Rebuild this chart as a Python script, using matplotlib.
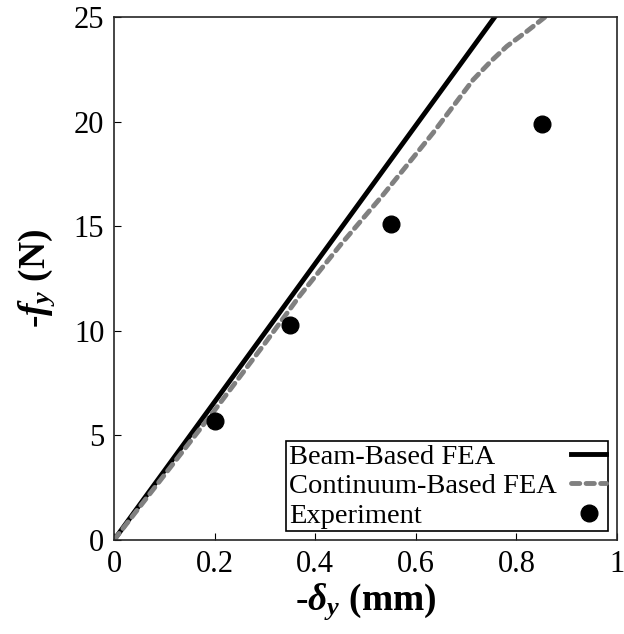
import numpy as np
import matplotlib.pyplot as plt

# Date
beam_x = [0.0, 0.757]
beam_y = [0.0, 25.0]

cont_x = [0.0, 0.1, 0.2, 0.3, 0.37, 0.45, 0.535, 0.634, 0.714, 0.75, 0.781, 0.82, 0.857]
cont_y = [0.0, 3.1, 6.2, 9.4, 11.7, 14.1, 16.5, 19.45, 22.0, 22.9, 23.6, 24.3, 25.0]

exp_x = [0.2, 0.35, 0.55, 0.85]
exp_y = [5.7, 10.3, 15.1, 19.9]

xticks = [0, 0.2, 0.4, 0.6, 0.8, 1]
xticklabels = ['0', '0.2', '0.4', '0.6', '0.8', '1']
yticks = [0, 5, 10, 15, 20, 25]

plt.rcParams['font.family'] = 'Liberation Serif'
plt.rcParams['mathtext.fontset'] = 'custom'
plt.rcParams['mathtext.rm'] = 'Liberation Serif:bold'
plt.rcParams['mathtext.bf'] = 'Liberation Serif:bold'
plt.rcParams['mathtext.it'] = 'Liberation Serif:bold:italic'

fig = plt.figure(figsize=(6.24, 6.34), dpi=100)
ax = fig.add_axes([114 / 624, 1 - 540 / 634, 503 / 624, 523 / 634])

ax.plot(beam_x, beam_y, '-', c='black', lw=3.5, label='Beam-Based FEA')
ax.plot(cont_x, cont_y, c='#808080', lw=3.5, linestyle=(0, (1.7, 1.3)),
        dash_capstyle='round', label='Continuum-Based FEA')
ax.plot(exp_x, exp_y, 'o', c='black', ms=12, label='Experiment')

ax.set_xlim(0, 1)
ax.set_ylim(0, 25)
ax.set_xticks(xticks)
ax.set_xticklabels(xticklabels)
ax.set_yticks(yticks)
ax.tick_params(direction='in', length=5, width=0.8, labelsize=22, pad=7)
for s in ax.spines.values():
    s.set_linewidth(1.2)
    s.set_color('#262626')

ax.set_xlabel(r'-$\delta_y$ (mm)', fontsize=27, fontweight='bold', labelpad=2)
ax.set_ylabel(r'-$f_y$ (N)', fontsize=27, fontweight='bold', labelpad=12)

leg = ax.legend(loc='lower right', markerfirst=False, fontsize=20.5,
                fancybox=False, framealpha=1, edgecolor='black',
                borderpad=0.1, labelspacing=0.12, handlelength=1.2,
                handletextpad=0.5, borderaxespad=0.3)
leg.get_frame().set_linewidth(1.2)

# text aliniat la stanga, simbolurile la dreapta
fig.canvas.draw()
texts = leg.get_texts()
widths = [t.get_window_extent().width for t in texts]
wmax = max(widths)
rows = leg._legend_handle_box.get_children()[0].get_children()
for row, w in zip(rows, widths):
    row.sep = row.sep + (wmax - w) * 72 / fig.dpi

plt.savefig('out.png', dpi=100)
